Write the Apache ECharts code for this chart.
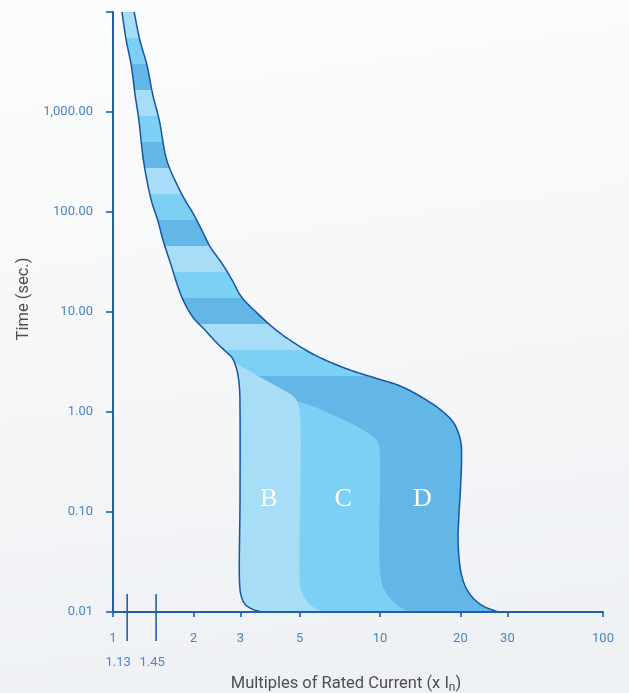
<!DOCTYPE html>
<html>
<head>
<meta charset="utf-8">
<script src="https://cdn.jsdelivr.net/npm/echarts@6.0.0/dist/echarts.min.js"></script>
<style>
html,body{margin:0;padding:0;width:629px;height:693px;overflow:hidden;
  background:linear-gradient(172deg,#fcfcfc 0%,#f6f7f8 45%,#edf0f4 100%);}
#c{width:629px;height:693px;}
</style>
</head>
<body>
<div id="c"></div>
<script>
// ---------- data (x = multiples of In, t = seconds) ----------
const xTickValues = [1, 2, 3, 5, 10, 20, 30];
const xEndLabel = [100];
const yTickValues = [0.01, 0.1, 1, 10, 100, 1000];
const markerValues = [1.13, 1.45];

// left (lower-current) edge of the tripping band, top to bottom
const leftEdge = [[1.08,10000],[1.12,5250],[1.17,2950],[1.21,1480],[1.25,830],[1.30,330],[1.39,132],
  [1.47,83],[1.54,52],[1.64,31],[1.81,14.1],[1.99,8.9],[2.21,6.6],[2.43,5.0],[2.65,4.0],[2.79,3.5],
  [2.88,2.9],[2.94,2.3],[2.98,1.66],[2.99,1.05],[2.99,0.13],[2.98,0.019],[3.02,0.0145],[3.12,0.012],
  [3.32,0.0107],[3.61,0.01]];
// right (higher-current) edge of the band, top to bottom
const rightEdge = [[1.20,10000],[1.26,5250],[1.34,2950],[1.41,1480],[1.49,830],[1.59,330],[1.74,186],
  [1.86,132],[1.99,98],[2.15,66],[2.31,45],[2.55,31],[2.79,21],[3.03,14.1],[3.46,9.8],[4.08,6.6],
  [4.89,4.7],[5.71,3.7],[6.79,3.0],[7.92,2.57],[9.58,2.19],[11.9,1.82],[14.7,1.35],[17.1,1.02],
  [18.8,0.79],[19.6,0.63],[20.1,0.49],[20.2,0.33],[20.0,0.166],[19.7,0.083],[19.6,0.0525],[19.8,0.033],
  [20.2,0.0234],[21.0,0.0174],[22.3,0.0138],[24.3,0.0115],[27.7,0.01]];
// B zone: upper edge and B/C limit (≈5 In)
const bEdge = [[2.84,3.16],[3.55,2.24],[4.41,1.62],[4.72,1.45],[4.89,1.29],[5.0,1.05],[5.0,0.022],
  [5.06,0.0166],[5.28,0.0132],[5.61,0.0112],[6.17,0.01]];
// C zone: upper edge and C/D limit (≈10 In)
const cEdge = [[4.89,1.29],[5.71,1.12],[6.67,0.93],[7.72,0.78],[8.64,0.66],[9.5,0.56],[9.91,0.46],
  [10.0,0.33],[10.0,0.026],[10.26,0.0178],[10.9,0.0138],[11.9,0.0112],[12.95,0.01]];
const cInnerX = 4.6; // left closure of C, hidden under B
// thermal band stripes (time limits, top to bottom) and their tones
const stripeBounds = [10000, 5500, 3020, 1660, 912, 501, 275, 151, 83, 46, 25, 13.8, 7.6, 4.2, 2.3];
const stripeTone = ['L','M','D','L','M','D','L','M','D','L','M','D','L','M','D'];
// zone letters
const zoneNames = ['B', 'C', 'D'];
const zoneX = [3.84, 7.27, 14.4];
const zoneT = [0.135, 0.135, 0.135];

// ---------- style ----------
const LIGHT = '#a7ddf7', MID = '#7cd0f4', DARK = '#62b7e6';
const tones = {L: LIGHT, M: MID, D: DARK};
const OUTLINE = '#1655a3';
const AXIS = '#1f5fae';
const LABEL = '#4a86c8';
const NAME = '#4e4e4e';
const FONT = 'Roboto';
const markerLabelShift = [-9, -4]; // horizontal label nudge (px) for the 1.13 / 1.45 marks

// centripetal Catmull-Rom smoothing of already-projected pixel points
function spline(pts, n) {
  n = n || 10;
  if (pts.length < 3) return pts.slice();
  const out = [pts[0]];
  const d = (a, b) => Math.pow(Math.hypot(b[0] - a[0], b[1] - a[1]), 0.5) || 1e-4;
  for (let i = 0; i < pts.length - 1; i++) {
    const p1 = pts[i], p2 = pts[i + 1];
    const p0 = pts[i - 1] || [2 * p1[0] - p2[0], 2 * p1[1] - p2[1]];
    const p3 = pts[i + 2] || [2 * p2[0] - p1[0], 2 * p2[1] - p1[1]];
    const t0 = 0, t1 = t0 + d(p0, p1), t2 = t1 + d(p1, p2), t3 = t2 + d(p2, p3);
    for (let k = 1; k <= n; k++) {
      const t = t1 + (t2 - t1) * k / n;
      const L = (a, b, ta, tb) => [((tb - t) * a[0] + (t - ta) * b[0]) / (tb - ta),
                                   ((tb - t) * a[1] + (t - ta) * b[1]) / (tb - ta)];
      const A1 = L(p0, p1, t0, t1), A2 = L(p1, p2, t1, t2), A3 = L(p2, p3, t2, t3);
      const B1 = L(A1, A2, t0, t2), B2 = L(A2, A3, t1, t3);
      out.push(L(B1, B2, t1, t2));
    }
  }
  return out;
}

function renderCurves(params, api) {
  const P = p => api.coord(p);
  const yTop = P([1, stripeBounds[0]])[1];
  const yBot = P([1, 0.01])[1];
  const off = t => Math.min(1, Math.max(0, (P([1, t])[1] - yTop) / (yBot - yTop)));
  const stops = [];
  for (let i = 0; i < stripeTone.length; i++) {
    const a = off(stripeBounds[i]);
    const b = i + 1 < stripeBounds.length ? off(stripeBounds[i + 1]) : 1;
    const col = tones[stripeTone[i]];
    stops.push({offset: a, color: col}, {offset: b, color: col});
  }
  const Ls = spline(leftEdge.map(P));
  const Rs = spline(rightEdge.map(P));
  const env = Ls.concat(Rs.slice().reverse());
  const yb = P(bEdge[0])[1];
  const bPoly = spline(bEdge.map(P), 8).concat(Ls.filter(p => p[1] > yb + 0.5).reverse());
  const cPoly = spline(cEdge.map(P), 8).concat([P([cInnerX, 0.01]), P([cInnerX, cEdge[0][1]])]);
  const children = [
    {type: 'polygon', shape: {points: env},
      style: {fill: new echarts.graphic.LinearGradient(0, yTop, 0, yBot, stops, true)}},
    {type: 'polygon', shape: {points: cPoly}, style: {fill: MID}},
    {type: 'polygon', shape: {points: bPoly}, style: {fill: LIGHT}},
    {type: 'polyline', shape: {points: Ls},
      style: {fill: null, stroke: OUTLINE, lineWidth: 1.5, lineJoin: 'round'}},
    {type: 'polyline', shape: {points: Rs},
      style: {fill: null, stroke: OUTLINE, lineWidth: 1.5, lineJoin: 'round'}}
  ];
  zoneNames.forEach((n, i) => {
    const p = P([zoneX[i], zoneT[i]]);
    children.push({type: 'text', x: p[0], y: p[1],
      style: {text: n, fill: '#ffffff', font: '26px "Liberation Serif", "DejaVu Serif", serif',
        align: 'center', verticalAlign: 'middle', textAlign: 'center', textVerticalAlign: 'middle'}});
  });
  return {type: 'group', children: children};
}

function renderMarkers(params, api) {
  const children = [];
  markerValues.forEach((v, i) => {
    const p = api.coord([v, 0.01]);
    children.push({type: 'line', shape: {x1: p[0], y1: p[1] - 18, x2: p[0], y2: p[1] + 29},
      style: {stroke: AXIS, lineWidth: 1.6}});
    children.push({type: 'text', x: p[0] + markerLabelShift[i], y: p[1] + 51,
      style: {text: String(v), fill: LABEL, font: '13px ' + FONT,
        align: 'center', verticalAlign: 'middle', textAlign: 'center', textVerticalAlign: 'middle'}});
  });
  return {type: 'group', children: children};
}

const yFmt = v => v >= 9999 ? '' :
  Number(v).toLocaleString('en-US', {minimumFractionDigits: 2, maximumFractionDigits: 2});

const chart = echarts.init(document.getElementById('c'), null, {renderer: 'canvas'});
chart.setOption({
  animation: false,
  backgroundColor: 'transparent',
  grid: {left: 113, top: 12, right: 26, bottom: 81, containLabel: false, outerBoundsMode: 'none'},
  xAxis: [{
    type: 'log', logBase: 10, min: 1, max: 68.4, position: 'bottom', z: 3,
    axisLine: {lineStyle: {color: AXIS, width: 2}},
    axisTick: {customValues: xTickValues, length: 5, lineStyle: {color: AXIS, width: 1.6}},
    axisLabel: {customValues: xTickValues, margin: 20, color: LABEL, fontSize: 13, fontFamily: FONT},
    splitLine: {show: false}, minorTick: {show: false},
    name: 'Multiples of Rated Current (x I{sub|n})',
    nameLocation: 'middle', nameGap: 62,
    nameTextStyle: {color: NAME, fontSize: 16.5, fontFamily: FONT, padding: [0, 24, 0, 0],
      rich: {sub: {color: NAME, fontSize: 12, fontFamily: FONT, padding: [8, 0, 0, 0]}}}
  }, {
    type: 'log', logBase: 10, min: 1, max: 100, position: 'bottom', z: 3,
    axisLine: {show: false},
    axisTick: {customValues: xEndLabel, length: 5, lineStyle: {color: AXIS, width: 1.6}},
    axisLabel: {customValues: xEndLabel, margin: 20, color: LABEL, fontSize: 13, fontFamily: FONT},
    splitLine: {show: false}, minorTick: {show: false}
  }],
  yAxis: [{
    type: 'log', logBase: 10, min: 0.01, max: 10000, z: 3,
    axisLine: {lineStyle: {color: AXIS, width: 2}},
    axisTick: {length: 7, lineStyle: {color: AXIS, width: 1.6}},
    axisLabel: {customValues: yTickValues, formatter: yFmt, margin: 20, color: LABEL,
      fontSize: 13, fontFamily: FONT, padding: [0, 0, 8, 0]},
    splitLine: {show: false}, minorTick: {show: false},
    name: 'Time (sec.)', nameLocation: 'middle', nameGap: 80,
    nameTextStyle: {color: NAME, fontSize: 16.5, fontFamily: FONT, padding: [0, 0, 0, 26]}
  }],
  series: [{
    type: 'custom', coordinateSystem: 'cartesian2d', xAxisIndex: 0, yAxisIndex: 0,
    renderItem: renderCurves, data: [[2, 1]], clip: false, silent: true, z: 2
  }, {
    type: 'custom', coordinateSystem: 'cartesian2d', xAxisIndex: 0, yAxisIndex: 0,
    renderItem: renderMarkers, data: [[2, 1]], clip: false, silent: true, z: 4
  }]
});
</script>
</body>
</html>
